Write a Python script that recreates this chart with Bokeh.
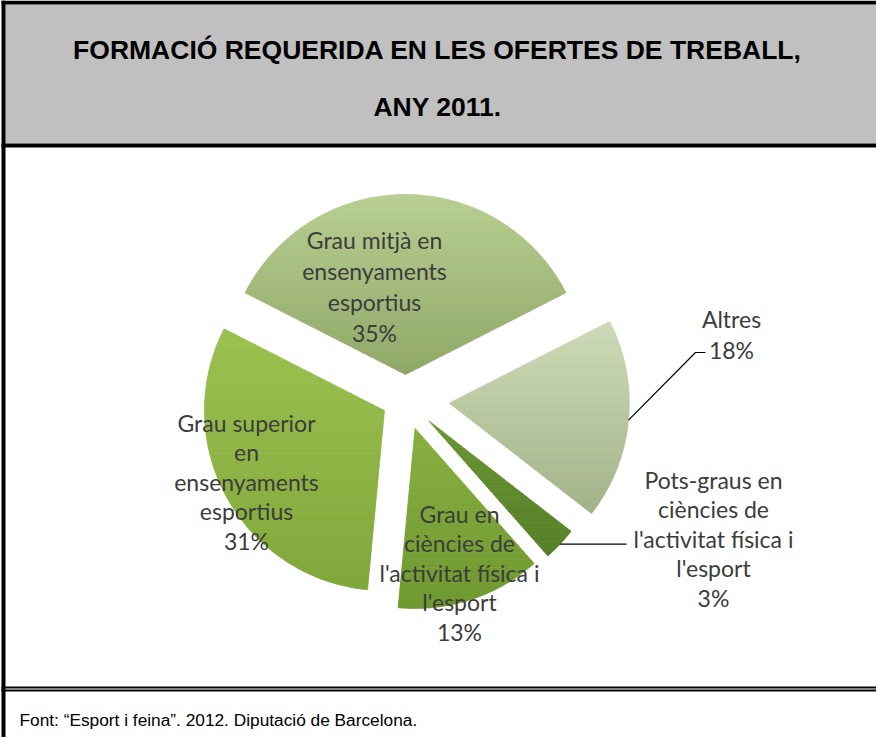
import numpy as np
from bokeh.plotting import figure
from bokeh.models import Range1d
from bokeh.embed import file_html
from bokeh.resources import INLINE
from bokeh.core.properties import value

# ---------------- data ----------------
categories = [
    "Grau mitjà en ensenyaments esportius",
    "Grau superior en ensenyaments esportius",
    "Grau en ciències de l'activitat física i l'esport",
    "Pots-graus en ciències de l'activitat física i l'esport",
    "Altres",
]
percentages = [35, 31, 13, 3, 18]
label_lines = [
    ["Grau mitjà en", "ensenyaments", "esportius"],
    ["Grau superior", "en", "ensenyaments", "esportius"],
    ["Grau en", "ciències de", "l'activitat física i", "l'esport"],
    ["Pots-graus en", "ciències de", "l'activitat física i", "l'esport"],
    ["Altres"],
]
title_lines = ["FORMACIÓ REQUERIDA EN LES OFERTES DE TREBALL,", "ANY 2011."]
source_note = "Font: “Esport i feina”. 2012. Diputació de Barcelona."

# ---------------- layout / style ----------------
W, H = 876, 737
IMG_H = 753


def Y(iy):
    return IMG_H - iy


CX, CY = 413, Y(406.5)
R = 180
START_DEG = 27
explode = [24.5, 24, 31, 32, 44]
grad_top = ["#b8ce92", "#9bc150", "#88af40", "#6b9634", "#cddab8"]
grad_bot = ["#8fa767", "#80a73a", "#6e9830", "#567f28", "#a2b287"]
# (center x, first line y, line spacing) in picture pixels
label_pos = [(382, 247, 31), (254, 430, 29.5), (467, 521, 29.5),
             (721, 487, 29.5), (739, 326, 31)]
label_font = value("Lato")
label_size = "23px"
label_color = "#3c3c3c"

p = figure(width=W, height=H,
           x_range=Range1d(8, 8 + W), y_range=Range1d(IMG_H - 8 - H, IMG_H - 8),
           x_axis_type=None, y_axis_type=None,
           output_backend="svg", toolbar_location=None, min_border=0)
p.grid.visible = False
p.outline_line_color = None
p.background_fill_color = "white"
p.border_fill_color = "white"

# ---------------- frame ----------------
p.quad(left=13, right=8 + W, top=Y(12), bottom=Y(151), fill_color="#c0c0c0", line_color=None)
blk = dict(fill_color="black", line_color=None)
p.quad(left=9, right=8 + W, top=Y(8), bottom=Y(12), **blk)
p.quad(left=9, right=13, top=Y(8), bottom=Y(745), **blk)
p.quad(left=9, right=8 + W, top=Y(151), bottom=Y(155), **blk)
p.quad(left=9, right=8 + W, top=Y(694), bottom=Y(696), **blk)
p.quad(left=9, right=8 + W, top=Y(697), bottom=Y(699), **blk)

p.text(x=[445, 445], y=[Y(57), Y(114)], text=title_lines,
       text_font=value("Liberation Sans"), text_font_style="bold",
       text_font_size="26.5px", text_align="center", text_baseline="middle",
       text_color="black")
p.text(x=[27], y=[Y(727)], text=[source_note],
       text_font=value("Liberation Sans"), text_font_size="17.3px",
       text_align="left", text_baseline="middle", text_color="black")


# ---------------- pie ----------------
def hex2rgb(h):
    h = h.lstrip("#")
    return np.array([int(h[i:i + 2], 16) for i in (0, 2, 4)], dtype=float)


def rgb2hex(c):
    return "#%02x%02x%02x" % tuple(int(round(v)) for v in c)


def clip_h(pts, yc, keep_above):
    out = []
    n = len(pts)
    for i in range(n):
        a = pts[i]
        b = pts[(i + 1) % n]
        ain = a[1] >= yc if keep_above else a[1] <= yc
        bin_ = b[1] >= yc if keep_above else b[1] <= yc
        if ain:
            out.append(a)
        if ain != bin_:
            t = (yc - a[1]) / (b[1] - a[1])
            out.append((a[0] + t * (b[0] - a[0]), yc))
    return out


total = float(sum(percentages))
angles = np.radians(np.array(percentages) / total * 360.0)
starts = np.radians(START_DEG) + np.concatenate([[0], np.cumsum(angles)[:-1]])
ends = starts + angles
mids = (starts + ends) / 2

band_xs, band_ys, band_cols = [], [], []
apexes = []
NB = 48
for i in range(len(percentages)):
    ax = CX + explode[i] * np.cos(mids[i])
    ay = CY + explode[i] * np.sin(mids[i])
    apexes.append((ax, ay))
    th = np.linspace(starts[i], ends[i], 160)
    poly = [(ax, ay)] + list(zip(ax + R * np.cos(th), ay + R * np.sin(th)))
    ys_all = [q[1] for q in poly]
    y0, y1 = min(ys_all), max(ys_all)
    edges = np.linspace(y0, y1, NB + 1)
    ct, cb = hex2rgb(grad_top[i]), hex2rgb(grad_bot[i])
    for k in range(NB):
        seg = clip_h(poly, edges[k], True)
        seg = clip_h(seg, edges[k + 1], False) if seg else seg
        if len(seg) < 3:
            continue
        f = (k + 0.5) / NB
        col = rgb2hex(cb + (ct - cb) * f)
        band_xs.append([q[0] for q in seg])
        band_ys.append([q[1] for q in seg])
        band_cols.append(col)

p.patches(xs=band_xs, ys=band_ys, fill_color=band_cols, line_color=band_cols, line_width=0.8)

# leader lines (start on the slice's outer edge at its bisector)
outer = [(apexes[i][0] + R * np.cos(mids[i]), apexes[i][1] + R * np.sin(mids[i]))
         for i in range(len(percentages))]
i_alt, i_pots = 4, 3
p.line(x=[outer[i_alt][0], 703, 713], y=[outer[i_alt][1], Y(360), Y(360)],
       line_color="black", line_width=1.2)
p.line(x=[outer[i_pots][0], 634], y=[outer[i_pots][1], outer[i_pots][1]],
       line_color="black", line_width=1.2)

# labels
tx, ty, tt = [], [], []
for i in range(len(percentages)):
    lines = label_lines[i] + [f"{percentages[i]}%"]
    x0, y0, dy = label_pos[i]
    for j, s in enumerate(lines):
        tx.append(x0)
        ty.append(Y(y0 + j * dy))
        tt.append(s)
p.text(x=tx, y=ty, text=tt, text_font=label_font, text_font_size=label_size,
       text_align="center", text_baseline="middle", text_color=label_color)

open("out.html", "w").write(file_html(p, INLINE))
